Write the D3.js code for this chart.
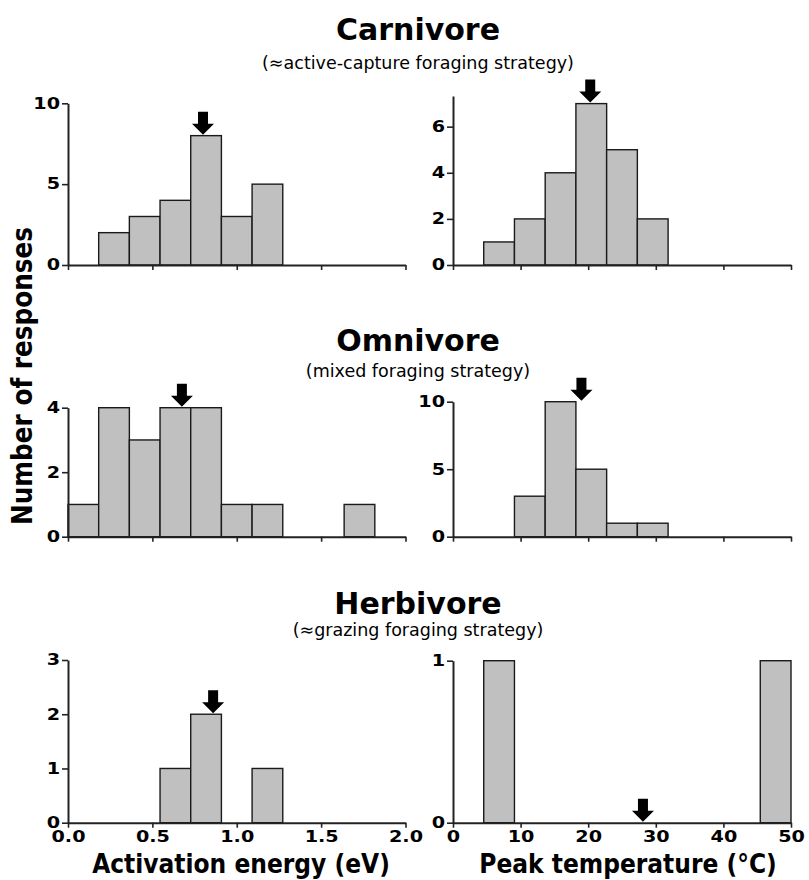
<!DOCTYPE html>
<html>
<head>
<meta charset="utf-8">
<script src="https://cdn.jsdelivr.net/npm/d3@7/dist/d3.min.js"></script>
<style>
  html, body { margin: 0; padding: 0; background: #fff; }
  svg { display: block; }
  .title { font-family: "DejaVu Sans", sans-serif; font-weight: bold; font-size: 30px; fill: #000; }
  .subtitle { font-family: "DejaVu Sans", sans-serif; font-size: 17.5px; fill: #000; }
  .axis-label { font-family: "DejaVu Sans Condensed", "DejaVu Sans", sans-serif; font-stretch: condensed; font-weight: bold; fill: #000; }
  .tick text { font-family: "DejaVu Sans", sans-serif; font-weight: bold; font-size: 15px; fill: #000; }
</style>
</head>
<body>
<script>
// Histograms of response counts: 11 equal bins over each axis range
const energyTicks = [0, 0.5, 1.0, 1.5, 2.0];
const tempTicks = [0, 10, 20, 30, 40, 50];
const binCount = 11;

const carnivoreEnergy = [0, 2, 3, 4, 8, 3, 5, 0, 0, 0, 0];
const omnivoreEnergy  = [1, 4, 3, 4, 4, 1, 1, 0, 0, 1, 0];
const herbivoreEnergy = [0, 0, 0, 1, 2, 0, 1, 0, 0, 0, 0];

const carnivoreTemp = [0, 1, 2, 4, 7, 5, 2, 0, 0, 0, 0];
const omnivoreTemp  = [0, 0, 3, 10, 5, 1, 1, 0, 0, 0, 0];
const herbivoreTemp = [0, 1, 0, 0, 0, 0, 0, 0, 0, 0, 1];

// medians marked by arrows: [activation energy, peak temperature]
const carnivoreMedian = [0.80, 20.3];
const omnivoreMedian  = [0.675, 19.0];
const herbivoreMedian = [0.86, 28.1];

// y ticks and y-axis maxima: [energy panel, temperature panel]
const carnivoreYTicks = [[0, 5, 10], [0, 2, 4, 6]];
const omnivoreYTicks  = [[0, 2, 4], [0, 5, 10]];
const herbivoreYTicks = [[0, 1, 2, 3], [0, 1]];
const carnivoreYMax = [10, 7.33];
const omnivoreYMax  = [4, 10];
const herbivoreYMax = [3, 1];

const groups = ["Carnivore", "Omnivore", "Herbivore"];
const subtitles = ["(≈active-capture foraging strategy)", "(mixed foraging strategy)", "(≈grazing foraging strategy)"];
const xLabels = ["Activation energy (eV)", "Peak temperature (°C)"];
const yLabel = "Number of responses";

const W = 809, H = 880;
const svg = d3.select("body").append("svg").attr("width", W).attr("height", H);

const energyX = d3.scaleLinear().domain([0, 2]).range([68, 405.5]);
const tempX = d3.scaleLinear().domain([0, 50]).range([453, 791]);

const rows = [
  { counts: [carnivoreEnergy, carnivoreTemp], med: carnivoreMedian, ticks: carnivoreYTicks, ymax: carnivoreYMax,
    base: 265, tops: [103.3, 96], titleY: 40, subY: 69 },
  { counts: [omnivoreEnergy, omnivoreTemp], med: omnivoreMedian, ticks: omnivoreYTicks, ymax: omnivoreYMax,
    base: 536.7, tops: [407.7, 401.7], titleY: 351, subY: 377 },
  { counts: [herbivoreEnergy, herbivoreTemp], med: herbivoreMedian, ticks: herbivoreYTicks, ymax: herbivoreYMax,
    base: 822.7, tops: [660, 660.7], titleY: 614, subY: 636 }
];

const tickScaleX = 1.28;

function styleAxis(g) {
  g.select(".domain").attr("stroke", "#222").attr("stroke-width", 2);
  g.selectAll(".tick line").attr("stroke", "#222").attr("stroke-width", 1.6);
}

rows.forEach((row, r) => {
  svg.append("text").attr("class", "title").attr("x", 418).attr("y", row.titleY)
    .attr("text-anchor", "middle").text(groups[r]);
  svg.append("text").attr("class", "subtitle").attr("x", 418).attr("y", row.subY)
    .attr("text-anchor", "middle").text(subtitles[r]);

  [energyX, tempX].forEach((x, p) => {
    const [d0, d1] = x.domain();
    const step = (d1 - d0) / binCount;
    const y = d3.scaleLinear().domain([0, row.ymax[p]]).range([row.base, row.tops[p]]);
    const counts = row.counts[p];
    const bins = counts.map((c, i) => ({ x0: d0 + i * step, x1: d0 + (i + 1) * step, c }));

    // bars
    svg.append("g").selectAll("rect").data(bins.filter(b => b.c > 0)).join("rect")
      .attr("x", b => x(b.x0)).attr("width", b => x(b.x1) - x(b.x0))
      .attr("y", b => y(b.c)).attr("height", b => y(0) - y(b.c))
      .attr("fill", "#c0c0c0").attr("stroke", "#1a1a1a").attr("stroke-width", 1.4);

    // x axis
    const xt = p === 0 ? energyTicks : tempTicks;
    const xa = svg.append("g").attr("transform", `translate(0,${row.base})`)
      .call(d3.axisBottom(x).tickValues(xt).tickSize(5).tickSizeOuter(0).tickPadding(4)
        .tickFormat(r === 2 ? (p === 0 ? d3.format(".1f") : d3.format("d")) : () => ""));
    styleAxis(xa);
    xa.selectAll(".tick text").attr("transform", `scale(${tickScaleX},1)`).attr("dy", "0.72em");

    // y axis
    const ya = svg.append("g").attr("transform", `translate(${x.range()[0]},0)`)
      .call(d3.axisLeft(y).tickValues(row.ticks[p]).tickSize(6).tickSizeOuter(0).tickPadding(2)
        .tickFormat(d3.format("d")));
    styleAxis(ya);
    ya.selectAll(".tick text").attr("x", -8 / tickScaleX).attr("transform", `scale(${tickScaleX},1)`);

    // median arrow: tip rests on the tallest bar under the arrow head
    const m = row.med[p];
    const xm = x(m);
    const half = 11;
    const under = bins.filter(b => x(b.x1) > xm - half && x(b.x0) < xm + half);
    const level = d3.max(under, b => b.c) || 0;
    const tip = y(level) - 1;
    const pts = [
      [xm - 5, tip - 23], [xm + 5, tip - 23], [xm + 5, tip - 11], [xm + half, tip - 11],
      [xm, tip], [xm - half, tip - 11], [xm - 5, tip - 11]
    ];
    svg.append("path").attr("d", d3.line()(pts) + "Z").attr("fill", "#000");
  });
});

// axis titles
svg.append("text").attr("class", "axis-label").attr("font-size", 26)
  .attr("x", 241).attr("y", 873).attr("text-anchor", "middle").text(xLabels[0]);
svg.append("text").attr("class", "axis-label").attr("font-size", 26)
  .attr("x", 628).attr("y", 873).attr("text-anchor", "middle").text(xLabels[1]);
svg.append("text").attr("class", "axis-label").attr("font-size", 27.5)
  .attr("transform", "translate(32,376) rotate(-90)").attr("text-anchor", "middle").text(yLabel);
</script>
</body>
</html>
